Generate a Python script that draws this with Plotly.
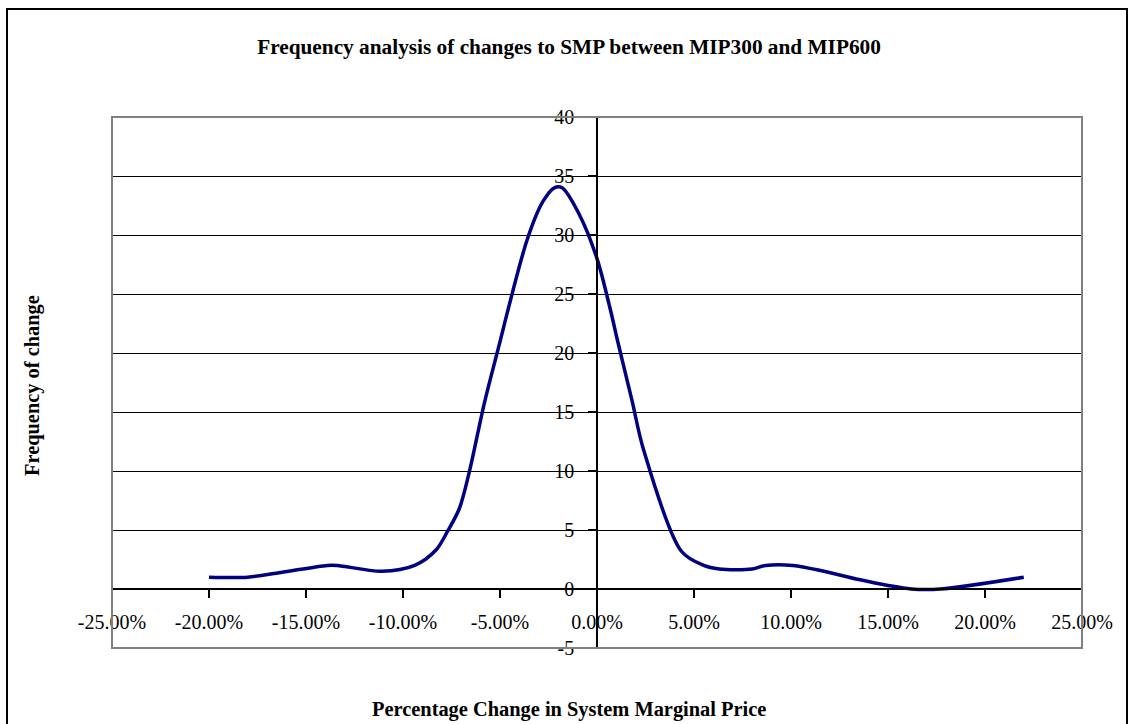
import plotly.graph_objects as go

# Frequency of percentage changes in SMP (MIP300 -> MIP600)
pct_change = [-20.0, -18.0, -16.3, -13.9, -13.4, -11.1, -9.4, -8.3, -7.7, -7.1,
              -6.6, -5.8, -5.15, -3.6, -2.8, -2.2, -1.8, -0.9, 0.0,
              0.7, 1.05, 1.8, 2.4, 4.35, 5.5, 6.3, 8.0,
              8.7, 10.1, 11.7, 13.5, 15.0, 16.2, 17.7, 22.0]
frequency = [1.0, 1.0, 1.4, 2.0, 2.0, 1.5, 2.0, 3.3, 4.9, 6.8,
             9.8, 15.8, 20.0, 29.6, 32.8, 34.0, 34.0, 31.7, 28.0,
             23.6, 21.1, 16.0, 11.8, 3.2, 2.0, 1.7, 1.7,
             2.0, 2.0, 1.5, 0.8, 0.3, 0.0, 0.0, 1.0]

x_ticks = [-25, -20, -15, -10, -5, 0, 5, 10, 15, 20, 25]
x_tick_labels = ["-25.00%", "-20.00%", "-15.00%", "-10.00%", "-5.00%", "0.00%",
                 "5.00%", "10.00%", "15.00%", "20.00%", "25.00%"]
y_ticks = [-5, 0, 5, 10, 15, 20, 25, 30, 35, 40]
y_tick_labels = ["-5", "0", "5", "10", "15", "20", "25", "30", "35", "40"]

FONT = "Liberation Serif, Times New Roman, serif"
W, H = 1132, 724
L, R, T, B = 112, 50, 117, 76
plot_w, plot_h = W - L - R, H - T - B


def px_to_paper_x(px):
    return (px - L) / plot_w


def px_to_paper_y(py):
    return (H - B - py) / plot_h


fig = go.Figure()
fig.add_trace(go.Scatter(
    x=pct_change, y=frequency, mode="lines",
    line=dict(color="#000080", width=3.5, shape="spline", smoothing=0.9),
    showlegend=False, hoverinfo="skip",
))

y_min, y_max = y_ticks[0], y_ticks[-1]
x_min, x_max = x_ticks[0], x_ticks[-1]

fig.update_layout(
    width=W, height=H,
    margin=dict(l=L, r=R, t=T, b=B),
    paper_bgcolor="white", plot_bgcolor="white",
    font=dict(family=FONT, size=20, color="black"),
    title=dict(
        text="<b>Frequency analysis of changes to SMP between MIP300 and MIP600</b>",
        x=569 / W, xanchor="center", xref="container",
        y=1 - 47 / H, yanchor="middle", yref="container",
        font=dict(family=FONT, size=21.3, color="black"),
    ),
    xaxis=dict(
        range=[x_min, x_max], tickvals=x_ticks, ticktext=x_tick_labels,
        showgrid=False, zeroline=False,
        showline=True, linecolor="black", linewidth=1.5,
        ticks="outside", ticklen=8, tickwidth=1.5, tickcolor="black",
        anchor="free", position=(0 - y_min) / (y_max - y_min),
        ticklabelstandoff=7,
        tickfont=dict(family=FONT, size=20, color="black"),
    ),
    yaxis=dict(
        range=[y_min, y_max], tickvals=y_ticks, ticktext=y_tick_labels,
        showgrid=True, gridcolor="black", gridwidth=1.3,
        zeroline=False,
        showline=True, linecolor="black", linewidth=1.5,
        ticks="outside", ticklen=8, tickwidth=1.5, tickcolor="black",
        anchor="free", position=(0 - x_min) / (x_max - x_min),
        ticklabelstandoff=10,
        tickfont=dict(family=FONT, size=20, color="black"),
    ),
    annotations=[
        dict(text="<b>Percentage Change in System Marginal Price</b>",
             xref="paper", yref="paper",
             x=px_to_paper_x(569), y=px_to_paper_y(709),
             xanchor="center", yanchor="middle", showarrow=False,
             font=dict(family=FONT, size=20.4, color="black")),
        dict(text="<b>Frequency of change</b>",
             xref="paper", yref="paper",
             x=px_to_paper_x(32), y=px_to_paper_y(386),
             xanchor="center", yanchor="middle", showarrow=False, textangle=-90,
             font=dict(family=FONT, size=20.4, color="black")),
    ],
    shapes=[
        # plot-area frame
        dict(type="rect", xref="paper", yref="paper", x0=0, y0=0, x1=1, y1=1,
             line=dict(color="#808080", width=2), fillcolor="rgba(0,0,0,0)",
             layer="above"),
        # chart-area border
        dict(type="rect", xref="paper", yref="paper",
             x0=px_to_paper_x(7), x1=px_to_paper_x(1127),
             y0=px_to_paper_y(740), y1=px_to_paper_y(9),
             line=dict(color="black", width=2), fillcolor="rgba(0,0,0,0)",
             layer="above"),
    ],
)

fig.write_html("out.html")
